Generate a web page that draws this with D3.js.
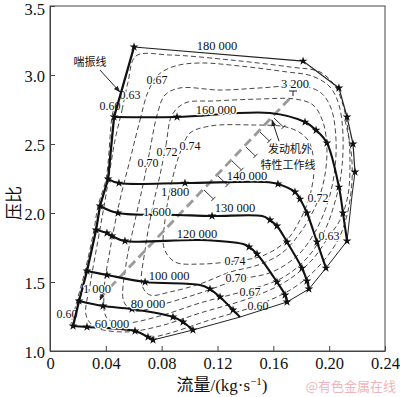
<!DOCTYPE html>
<html><head><meta charset="utf-8">
<script src="https://cdn.jsdelivr.net/npm/d3@7"></script>
<style>body{margin:0;background:#fff}</style>
</head><body><svg id="c" width="400" height="397"></svg>
<script>
// ---------- data ----------
const xTicks=[0,0.04,0.08,0.12,0.16,0.20,0.24];
const xTickLabels=["0","0.04","0.08","0.12","0.16","0.20","0.24"];
const yTicks=[1.0,1.5,2.0,2.5,3.0,3.5];
const yTickLabels=["1.0","1.5","2.0","2.5","3.0","3.5"];

// speed lines: [flow kg/s, pressure ratio, star?]
const s60=[[0.0165,1.181,1],[0.0265,1.174,1],[0.0609,1.145,1],[0.0702,1.101,1],[0.0738,1.080,1]];
const s80=[[0.0208,1.362,1],[0.038,1.326,1],[0.0587,1.304,1],[0.0881,1.246,1],[0.0953,1.21,1],[0.1024,1.152,1]];
const s100=[[0.0265,1.58,1],[0.0408,1.551,1],[0.0681,1.50,1],[0.1075,1.478,0],[0.1146,1.449,1],[0.1218,1.391,1],[0.1311,1.297,1],[0.1361,1.246,0]];
const s120=[[0.033,1.877,1],[0.0408,1.855,1],[0.0444,1.833,1],[0.0537,1.797,1],[0.1075,1.804,0],[0.1383,1.775,0],[0.1426,1.754,1],[0.1483,1.703,1],[0.1626,1.50,1],[0.1684,1.406,1],[0.1698,1.355,1]];
const s130=[[0.0358,2.051,1],[0.0487,2.0,1],[0.0917,1.986,0],[0.1161,1.978,1],[0.152,1.978,0],[0.1576,1.949,1],[0.1626,1.906,1],[0.1698,1.79,1],[0.1805,1.601,1],[0.1841,1.507,1],[0.1855,1.449,1]];
const s140=[[0.0416,2.246,1],[0.0494,2.217,1],[0.0967,2.217,1],[0.154,2.225,0],[0.1633,2.21,1],[0.1755,2.152,1],[0.1791,2.101,1],[0.1841,2.0,1],[0.1913,1.79,1],[0.1977,1.601,1]];
const s160=[[0.0459,2.696,1],[0.091,2.696,1],[0.1576,2.725,0],[0.1827,2.659,1],[0.1906,2.60,1],[0.1984,2.507,1],[0.2070,2.188,1],[0.2099,2.0,1],[0.2128,1.797,1]];
const s180=[[0.0602,3.203,1],[0.1813,3.101,1],[0.207,2.906,1],[0.2128,2.696,1],[0.2171,2.50,1],[0.2185,2.297,1]];

const surgeLine=[[0.0165,1.181],[0.0208,1.362],[0.0265,1.58],[0.033,1.877],[0.0358,2.051],[0.0416,2.246],[0.0459,2.696],[0.0602,3.203]];
const chokeLine=[[0.2185,2.297],[0.2164,2.13],[0.2128,1.797],[0.1977,1.601],[0.1855,1.449],[0.1698,1.355],[0.1361,1.246],[0.1024,1.152],[0.0738,1.08]];

// efficiency contours
const eff074=[[0.0903,2.348],[0.0946,2.471],[0.1003,2.580],[0.1146,2.630],[0.1433,2.638],[0.1719,2.616],[0.1848,2.529],[0.1891,2.348],[0.1863,2.130],[0.1791,1.949],[0.1684,1.790],[0.1519,1.688],[0.1325,1.652],[0.1075,1.630],[0.0896,1.645],[0.0817,1.746],[0.0824,1.949],[0.086,2.167]];
const eff072=[[0.0788,2.275],[0.0831,2.493],[0.0874,2.710],[0.0967,2.797],[0.1182,2.812],[0.1504,2.826],[0.1755,2.826],[0.1884,2.783],[0.1956,2.659],[0.1984,2.457],[0.1963,2.239],[0.1906,2.058],[0.1791,1.855],[0.1662,1.710],[0.149,1.623],[0.129,1.572],[0.1075,1.486],[0.086,1.428],[0.0716,1.406],[0.0659,1.478],[0.0681,1.732],[0.0731,2.022]];
const eff070=[[0.0666,2.203],[0.0716,2.456],[0.0767,2.710],[0.0824,2.855],[0.0931,2.906],[0.1218,2.891],[0.1504,2.906],[0.1791,2.920],[0.1934,2.877],[0.2013,2.761],[0.2049,2.529],[0.2035,2.275],[0.1984,2.058],[0.1898,1.862],[0.1777,1.696],[0.159,1.572],[0.134,1.514],[0.1075,1.420],[0.0788,1.333],[0.0609,1.290],[0.053,1.355],[0.0544,1.623],[0.0602,1.913]];
const eff067=[[0.0573,2.384],[0.0645,2.674],[0.0702,2.877],[0.0774,3.0],[0.0896,3.065],[0.1075,3.087],[0.1361,3.065],[0.1698,3.022],[0.1877,2.993],[0.2006,2.913],[0.207,2.783],[0.2099,2.565],[0.2085,2.275],[0.2035,2.058],[0.197,1.877],[0.1848,1.681],[0.1662,1.529],[0.1418,1.442],[0.1075,1.348],[0.0788,1.254],[0.0537,1.203],[0.0408,1.239],[0.0387,1.428],[0.043,1.732],[0.0501,2.094]];
const eff063=[[0.0466,2.529],[0.0516,2.746],[0.0559,2.949],[0.0616,3.138],[0.086,3.145],[0.129,3.109],[0.1719,3.058],[0.1934,3.022],[0.2042,2.920],[0.2099,2.783],[0.2135,2.601],[0.2149,2.384],[0.2135,2.130],[0.2078,1.949],[0.1999,1.833],[0.1877,1.659],[0.1684,1.500],[0.1433,1.384],[0.1075,1.275],[0.0788,1.181],[0.0537,1.138],[0.0322,1.174],[0.0258,1.261],[0.0287,1.478],[0.0344,1.804],[0.0401,2.130]];
const eff060a=[[0.0466,2.797],[0.0444,2.696],[0.0401,2.246],[0.0344,2.051],[0.0315,1.877],[0.0251,1.580],[0.0193,1.362],[0.015,1.196]];
const eff060b=[[0.2113,2.674],[0.2156,2.456],[0.2164,2.239],[0.2128,1.985],[0.2063,1.804],[0.1934,1.623],[0.1755,1.464],[0.149,1.333],[0.1146,1.225],[0.086,1.130],[0.0716,1.094]];

// engine full-load operating line
const engineLine=[[0.0358,1.384],[0.1741,2.855]];
const engineTicks=[[0.1103,2.167],[0.1204,2.268],[0.1304,2.377],[0.1404,2.478],[0.1504,2.587],[0.1605,2.688]];

// labels (anchor positions in data units)
const speedLabels=[["180 000",0.1196,3.21],["160 000",0.1189,2.746],["140 000",0.1411,2.268],["130 000",0.1325,2.036],["120 000",0.1053,1.848],["100 000",0.0853,1.543],["80 000",0.0702,1.341],["60 000",0.0444,1.196]];
const effLabels=[["0.67",0.0767,2.964],["0.63",0.0573,2.855],["0.60",0.043,2.775],["0.70",0.0702,2.362],["0.72",0.0838,2.442],["0.74",0.1003,2.486],["0.74",0.1325,1.652],["0.70",0.1333,1.530],["0.67",0.1433,1.432],["0.60",0.149,1.326],["0.72",0.192,2.109],["0.63",0.1999,1.833],["0.60",0.0122,1.268]];
const engineLabels=[["1 000",0.0337,1.449],["1 600",0.0767,2.007],["1 800",0.0896,2.152],["3 200",0.1755,2.935]];

// ---------- drawing ----------
const svg=d3.select("#c");
const x=d3.scaleLinear([0,0.24],[50,385]);
const y=d3.scaleLinear([1,3.5],[351,6]);
const serif="'Liberation Serif','Times New Roman',serif";
const cjk="'Noto Sans CJK SC',sans-serif";

svg.append("defs").append("marker").attr("id","arr").attr("viewBox","0 0 10 10")
  .attr("refX",9).attr("refY",5).attr("markerWidth",7).attr("markerHeight",7).attr("orient","auto")
  .append("path").attr("d","M0,1.5L10,5L0,8.5Z").attr("fill","#222");

svg.append("rect").attr("x",x(0)).attr("y",y(3.5)).attr("width",x(0.24)-x(0)).attr("height",y(1)-y(3.5))
  .attr("fill","none").attr("stroke","#444").attr("stroke-width",1);

const gx=svg.append("g").attr("transform",`translate(0,${y(1)})`)
  .call(d3.axisBottom(x).tickValues(xTicks).tickFormat((d,i)=>xTickLabels[i]).tickSizeInner(-5).tickSizeOuter(0).tickPadding(6));
const gy=svg.append("g").attr("transform",`translate(${x(0)},0)`)
  .call(d3.axisLeft(y).tickValues(yTicks).tickFormat((d,i)=>yTickLabels[i]).tickSizeInner(-5).tickSizeOuter(0).tickPadding(5));
[gx,gy].forEach(g=>{g.selectAll("text").attr("font-family",serif).attr("font-size",16.5).attr("fill","#111");
  g.selectAll("line,path").attr("stroke","#444");});
gy.selectAll("text").attr("dy","0.38em");
gy.selectAll("text").filter(d=>d===3.5).attr("dy","0.5em");

const line=d3.line().x(d=>x(d[0])).y(d=>y(d[1]));
function txt(parent,t,xx,yy,size,font,anchor){
  return parent.append("text").attr("x",xx).attr("y",yy).text(t).attr("font-family",font).attr("font-size",size)
    .attr("text-anchor",anchor||"middle").attr("fill","#111")
    .attr("stroke","#fff").attr("stroke-width",2.6).attr("paint-order","stroke").attr("stroke-linejoin","round");
}

// layer 1: efficiency contours
const gc=svg.append("g");
const dash="5,3";
[eff074,eff072,eff070,eff067,eff063].forEach(c=>{
  gc.append("path").attr("d",line.curve(d3.curveCatmullRomClosed.alpha(0.5))(c))
   .attr("fill","none").attr("stroke","#333").attr("stroke-width",0.9).attr("stroke-dasharray",dash);
});
[eff060a,eff060b].forEach(c=>{
  gc.append("path").attr("d",line.curve(d3.curveCatmullRom.alpha(0.5))(c))
   .attr("fill","none").attr("stroke","#333").attr("stroke-width",0.9).attr("stroke-dasharray",dash);
});
// layer 2: contour labels (break the dashed lines)
effLabels.forEach(l=>txt(gc,l[0],x(l[1]),y(l[2])+4.3,12,serif));

// layer 3: engine line
const g=svg.append("g");
g.append("path").attr("d",line.curve(d3.curveLinear)(engineLine))
  .attr("fill","none").attr("stroke","#9a9a9a").attr("stroke-width",2.8).attr("stroke-dasharray","9,5");
{
  const p0=[x(engineLine[0][0]),y(engineLine[0][1])], p1=[x(engineLine[1][0]),y(engineLine[1][1])];
  const L=Math.hypot(p1[0]-p0[0],p1[1]-p0[1]); const ux=(p1[0]-p0[0])/L, uy=(p1[1]-p0[1])/L;
  const nx=-uy, ny=ux;
  engineTicks.forEach(t=>{
    const px=x(t[0]), py=y(t[1]);
    const ex=px+nx*13, ey=py+ny*13;
    g.append("line").attr("x1",px).attr("y1",py).attr("x2",ex).attr("y2",ey).attr("stroke","#222").attr("stroke-width",0.9);
    g.append("line").attr("x1",ex-ux*3).attr("y1",ey-uy*3).attr("x2",ex+ux*3).attr("y2",ey+uy*3).attr("stroke","#222").attr("stroke-width",0.9);
  });
  g.append("line").attr("x1",p1[0]-4).attr("y1",p1[1]-4).attr("x2",p1[0]+4).attr("y2",p1[1]-4).attr("stroke","#222").attr("stroke-width",1);
  g.append("line").attr("x1",p1[0]).attr("y1",p1[1]-4).attr("x2",p1[0]).attr("y2",p1[1]+1).attr("stroke","#222").attr("stroke-width",1);
}

// layer 4: boundary & speed lines
g.append("path").attr("d",line.curve(d3.curveLinear)(chokeLine)).attr("fill","none").attr("stroke","#222").attr("stroke-width",1);
g.append("path").attr("d",line.curve(d3.curveLinear)(s180)).attr("fill","none").attr("stroke","#222").attr("stroke-width",1.2);
g.append("path").attr("d",line.curve(d3.curveLinear)(surgeLine)).attr("fill","none").attr("stroke","#111").attr("stroke-width",2.3);
[s60,s80,s100,s120,s130,s140,s160].forEach(s=>{
  g.append("path").attr("d",line.curve(d3.curveCatmullRom.alpha(0.5))(s)).attr("fill","none").attr("stroke","#111").attr("stroke-width",2.1);
});
const star=d3.symbol(d3.symbolStar,24);
[s60,s80,s100,s120,s130,s140,s160,s180].forEach(s=>{
  s.filter(d=>d[2]).forEach(d=>{
    g.append("path").attr("d",star).attr("transform",`translate(${x(d[0])},${y(d[1])})`).attr("fill","#111");
  });
});

// layer 5: speed & engine labels, annotations
const gl=svg.append("g");
speedLabels.forEach(l=>txt(gl,l[0],x(l[1]),y(l[2])+4.3,12.5,serif));
engineLabels.forEach(l=>txt(gl,l[0],x(l[1]),y(l[2])+4.3,12.5,serif));

txt(gl,"喘振线",x(0.0287),y(3.094)+4,11,cjk);
gl.append("line").attr("x1",x(0.0358)).attr("y1",y(3.036)).attr("x2",x(0.0501)).attr("y2",y(2.877))
  .attr("stroke","#222").attr("stroke-width",1).attr("marker-end","url(#arr)");
txt(gl,"发动机外",x(0.1719),y(2.464)+4,11,cjk);
txt(gl,"特性工作线",x(0.1705),y(2.350)+4,11,cjk);
gl.append("line").attr("x1",x(0.1641)).attr("y1",y(2.52)).attr("x2",x(0.159)).attr("y2",y(2.674))
  .attr("stroke","#222").attr("stroke-width",1).attr("marker-end","url(#arr)");
gl.append("line").attr("x1",x(0.0383)).attr("y1",y(1.42)).attr("x2",x(0.0358)).attr("y2",y(1.37))
  .attr("stroke","#222").attr("stroke-width",0.9).attr("marker-end","url(#arr)");

// axis titles
svg.append("text").attr("transform","translate(20,203) rotate(-90)").attr("text-anchor","middle")
  .attr("font-family",cjk).attr("font-size",17).attr("fill","#111").text("压比");
const xl=svg.append("text").attr("x",222).attr("y",391).attr("text-anchor","middle").attr("font-family",serif).attr("font-size",17).attr("fill","#111");
xl.append("tspan").attr("font-family",cjk).text("流量");
xl.append("tspan").text("/(kg·s");
xl.append("tspan").attr("font-size",11).attr("dy",-6).text("−1");
xl.append("tspan").attr("dy",6).text(")");
svg.append("text").attr("x",396).attr("y",391).attr("text-anchor","end").attr("font-family",cjk)
  .attr("font-size",13).attr("fill","#f0b4bd").text("@有色金属在线");
</script></body></html>
